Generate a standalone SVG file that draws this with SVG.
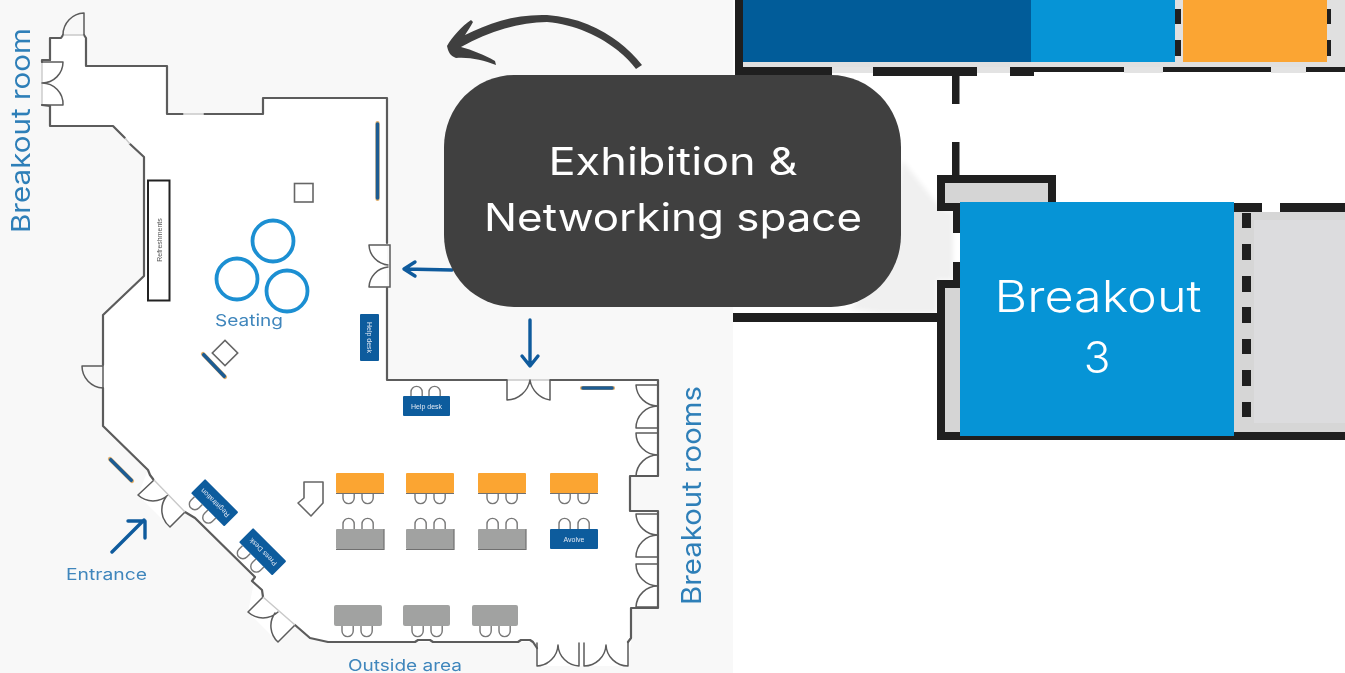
<svg xmlns="http://www.w3.org/2000/svg" width="1345" height="673" viewBox="0 0 1345 673">
<style>
.wall{fill:none;stroke:#5b5b5b;stroke-width:2.2;stroke-linejoin:round;stroke-linecap:round}
.door{fill:none;stroke:#5b5b5b;stroke-width:1.5;stroke-linecap:round}
.opening{fill:none;stroke:#c9c9c9;stroke-width:1.4}
.chair{fill:#fff;stroke:#777;stroke-width:1.4}
.orange{fill:#fba533}
.grey{fill:#a1a2a1}
.blue{fill:#0f5b9d}
.edge{fill:none;stroke:#6f6f6f;stroke-width:1.2}
.tiny{font-family:"Liberation Sans",sans-serif;font-size:7px;fill:#dfe9f3;text-anchor:middle}
.plan{font-family:"Inter","Liberation Sans",sans-serif;fill:#3f86bc}
.flow{fill:none;stroke:#0f5b9d;stroke-width:3.400;stroke-linecap:round;stroke-linejoin:round}
.bar{stroke:#e0ae6a;stroke-width:4.200;stroke-linecap:round}
.barin{stroke:#1f5c93;stroke-width:3.600;stroke-linecap:round}
.dk{fill:#1f1f1f}
.big{font-family:"Inter","Liberation Sans",sans-serif;fill:#fff;text-anchor:middle}
</style>
<defs>
<filter id="soft" x="-2%" y="-2%" width="104%" height="104%"><feGaussianBlur stdDeviation="0.55"/></filter>
<filter id="haze" x="-20%" y="-20%" width="140%" height="140%"><feGaussianBlur stdDeviation="2.500"/></filter>
<g id="chairUp"><path class="chair" d="M0 11V6a5.6 5.6 0 0 1 11.200 0V11"/></g>
<g id="chairDown"><path class="chair" d="M0 0V5a5.600 5.600 0 0 0 11.200 0V0"/></g>
</defs>

<rect x="0" y="0" width="733" height="673" fill="#f8f8f8"/>
<rect x="733" y="0" width="612" height="673" fill="#fff"/>

<g id="floorplan-left" filter="url(#soft)">
<path id="floor" fill="#fff" d="M63 35H84L86 38V66H167V114H263V98H387V380H658V476H630V511H658V608H631V640L628 666H537V642H328L310 638L295 625L278 642L248 612L255 577L195 518L185 512L170 527L138 495L148 470L103 426V315L144 276V157L113 126H50V106H42V60H50V38H61Z"/>
<path class="wall" d="M84 35L86 38V66H167V114H183M204 114H263V98H387V243M387 288V380H507M550 380H658V476H630V511H658V608H631V638L628 642M537 648L533 642L530 640H521L518 642H433L430 640H418L415 642H328L310 638L295 625M263 597L262 590L252 581L255 577L195 518L185 512M153 479L150 475L148 470L103 426V388M103 365V315L144 276V157L130 144M125 138L113 126H50V106M50 60V38H61L63 35"/>
<path class="opening" d="M183 114H204M130 144L125 138M63 35H84M42 60V106M507 380H550"/>
<path class="wall" d="M42 62V60L50 60M42 105L50 106"/>
<path class="door" d="M84 13V35M84 13A22 22 0 0 0 63 35"/>
<path class="door" d="M42 62H63M63 62A21 21 0 0 1 42 83M42 105H63M63 105A21 21 0 0 0 42 83"/>
<path class="door" d="M369 245H390V287H369M369 245A21 21 0 0 0 388 265M369 287A21 21 0 0 1 388 267"/>
<path class="door" d="M507 380V400M507 400A24 24 0 0 0 530 380M550 380V400M550 400A24 24 0 0 1 530 380"/>
<path class="door" d="M636 385H658M636 385A22 22 0 0 0 658 406M636 428H658M636 428A22 22 0 0 1 658 406M636 433H658M636 433A22 22 0 0 0 658 455M636 476H658M636 476A22 22 0 0 1 658 455"/>
<path class="door" d="M636 514H658M636 514A22 22 0 0 0 658 535M636 557H658M636 557A22 22 0 0 1 658 535M636 564H658M636 564A22 22 0 0 0 658 586M636 607H658M636 607A22 22 0 0 1 658 586"/>
<path class="door" d="M537 643V666M537 666A22 22 0 0 0 558 645M579 643V666M579 666A22 22 0 0 1 558 645M584 643V666M584 666A22 22 0 0 0 606 645M628 642V666M628 666A22 22 0 0 1 606 645"/>
<path class="door" d="M154 480L138 495M138 495A22 22 0 0 0 168 495M185 512L170 527M170 527A22 22 0 0 1 166 497"/>
<path class="door" d="M263 597L248 612M248 612A22 22 0 0 0 278 612M295 625L278 642M278 642A22 22 0 0 1 275 613"/>
<path class="opening" d="M154 480L185 512M263 597L295 625"/>
<path d="M82 366H103V388M82 366A22 22 0 0 0 103 388" class="door"/>

<g id="refreshments"><rect x="148" y="180.500" width="21.500" height="120" fill="#fff" stroke="#222" stroke-width="2"/><text class="tiny" transform="translate(161.500 240) rotate(-90)" style="fill:#555">Refreshments</text></g>
<rect id="pillar-top" x="294.500" y="183.500" width="18.500" height="18.500" fill="#fff" stroke="#666" stroke-width="1.600"/>
<g id="seating"><circle cx="273" cy="241" r="20.500" fill="#fff" stroke="#1a8fd2" stroke-width="3.800"/><circle cx="237" cy="279" r="20.500" fill="#fff" stroke="#1a8fd2" stroke-width="3.800"/><circle cx="287" cy="291" r="20.500" fill="#fff" stroke="#1a8fd2" stroke-width="3.800"/><text class="plan" x="249" y="326" font-size="16.500" text-anchor="middle" textLength="68" lengthAdjust="spacingAndGlyphs">Seating</text></g>
<rect id="pillar-diag" x="-9" y="-9" width="18" height="18" transform="translate(225 353) rotate(45)" fill="#fff" stroke="#666" stroke-width="1.600"/>

<line class="bar" x1="377.500" y1="123" x2="377.500" y2="199"/><line class="barin" x1="377.500" y1="124" x2="377.500" y2="198"/>
<line class="bar" x1="203" y1="354" x2="225" y2="377"/><line class="barin" x1="203.700" y1="354.700" x2="224.300" y2="376.300"/>
<line class="bar" x1="110" y1="459" x2="132" y2="481"/><line class="barin" x1="110.700" y1="459.700" x2="131.300" y2="480.300"/>
<line class="bar" x1="582" y1="388" x2="613" y2="388"/><line class="barin" x1="583" y1="388" x2="612" y2="388"/>

<g id="helpdesk-vertical"><rect x="360" y="314" width="19" height="47" rx="1" class="blue"/><text class="tiny" transform="translate(367 337.500) rotate(90)">Help desk</text></g>
<g id="helpdesk-horizontal"><use href="#chairUp" x="411" y="386"/><use href="#chairUp" x="429" y="386"/><rect x="403" y="396" width="47" height="20" rx="1" class="blue"/><text class="tiny" x="426.500" y="409">Help desk</text></g>

<g id="registration"><g transform="translate(215 503) rotate(45)"><use href="#chairDown" x="-19" y="10"/><use href="#chairDown" x="0" y="10"/><rect x="-24" y="-10" width="47" height="20" rx="1" class="blue"/><text class="tiny" transform="rotate(180)" y="2.500">Registration</text></g></g>
<g id="press-desk"><g transform="translate(263 552) rotate(45)"><use href="#chairDown" x="-19" y="10"/><use href="#chairDown" x="0" y="10"/><rect x="-24" y="-10" width="47" height="20" rx="1" class="blue"/><text class="tiny" transform="rotate(180)" y="2.500">Press Desk</text></g></g>

<path id="lectern" d="M304 482H323V503L311 516L298 503L304 498Z" fill="#fff" stroke="#666" stroke-width="1.600" stroke-linejoin="round"/>

<g id="tables-orange">
<use href="#chairDown" x="343" y="493"/><use href="#chairDown" x="362" y="493"/><rect x="336" y="473" width="48" height="20" rx="1" class="orange"/>
<use href="#chairDown" x="415" y="493"/><use href="#chairDown" x="434" y="493"/><rect x="406" y="473" width="48" height="20" rx="1" class="orange"/>
<use href="#chairDown" x="487" y="493"/><use href="#chairDown" x="506" y="493"/><rect x="478" y="473" width="48" height="20" rx="1" class="orange"/>
<use href="#chairDown" x="559" y="493"/><use href="#chairDown" x="578" y="493"/><rect x="550" y="473" width="48" height="20" rx="1" class="orange"/>
<path class="edge" d="M336 493.500H384M406 493.500H454M478 493.500H526M550 493.500H598"/>
</g>
<g id="tables-grey">
<use href="#chairUp" x="343" y="518"/><use href="#chairUp" x="362" y="518"/><rect x="336" y="529" width="48" height="20" rx="1" class="grey"/>
<use href="#chairUp" x="415" y="518"/><use href="#chairUp" x="434" y="518"/><rect x="406" y="529" width="48" height="20" rx="1" class="grey"/>
<use href="#chairUp" x="487" y="518"/><use href="#chairUp" x="506" y="518"/><rect x="478" y="529" width="48" height="20" rx="1" class="grey"/>
<path class="edge" d="M336 549.500H384V529M406 549.500H454V529M478 549.500H526V529"/>
</g>
<g id="table-avolve"><use href="#chairUp" x="559" y="518"/><use href="#chairUp" x="578" y="518"/><rect x="550" y="529" width="48" height="20" rx="1" class="blue"/><text class="tiny" x="574" y="542">Avolve</text></g>
<g id="tables-bottom">
<use href="#chairDown" x="342" y="626"/><use href="#chairDown" x="361" y="626"/><rect x="334" y="605" width="48" height="21" rx="2" class="grey"/>
<use href="#chairDown" x="412" y="626"/><use href="#chairDown" x="431" y="626"/><rect x="403" y="605" width="47" height="21" rx="2" class="grey"/>
<use href="#chairDown" x="480" y="626"/><use href="#chairDown" x="499" y="626"/><rect x="472" y="605" width="46" height="21" rx="2" class="grey"/>
</g>

<text class="plan" transform="translate(30 233) rotate(-90)" font-size="26" textLength="205" lengthAdjust="spacingAndGlyphs" style="fill:#2f7fb8">Breakout room</text>
<text class="plan" transform="translate(701 605) rotate(-90)" font-size="27" textLength="219" lengthAdjust="spacingAndGlyphs" style="fill:#2f7fb8">Breakout rooms</text>
<text class="plan" x="66" y="580" font-size="16" textLength="81" lengthAdjust="spacingAndGlyphs">Entrance</text>
<text class="plan" x="348" y="671" font-size="16" textLength="114" lengthAdjust="spacingAndGlyphs">Outside area</text>
</g>

<g id="connectors">
<path class="flow" d="M112 552L144 520M128 521H145V538"/>
<path class="flow" d="M452 270L405 269M415 262L404 269L415 276"/>
<path class="flow" d="M530 320V365M522 356L530 366L538 356"/>
<path fill="#3f3f3f" d="M642 65C622 40 590 18 547 15C515 14 489 23 465 35C468 30 471 26 473 22L471 20C462 26 452 37 447 46C448 51 450 56 456 58C470 57 483 60 496 65L495 61C485 55 472 50 461 47C490 31 520 22 547 22C583 25 618 45 636 69Z"/>
</g>

<g id="floorplan-right">
<rect x="743" y="0" width="602" height="67" fill="#e0e0e0"/>
<path d="M832 67H873V73H832ZM977 67H1010V73H977ZM1124 67H1163V73H1124ZM1271 67H1306V73H1271Z" fill="#e3e3e3"/>
<path d="M902 160L938 205L945 211H953V280H937V313H880L850 309L890 260Z" fill="#f0f0f0" filter="url(#haze)"/>
<path class="dk" d="M735 0H743V67H832V76H735Z"/>
<path class="dk" d="M873 67H977V76H873ZM1010 67H1124V72H1010ZM1163 67H1271V72H1163ZM1306 67H1345V72H1306Z"/>
<rect x="1010" y="72" width="24" height="4" class="dk"/>
<rect class="dk" x="952" y="76" width="7.500" height="28"/>
<rect class="dk" x="952" y="142" width="7.500" height="34"/>
<rect x="945" y="183" width="103" height="22" fill="#d5d5d5"/>
<path class="dk" d="M937 175H1056V204H1048V183H945V203H960V211H937Z"/>
<rect class="dk" x="953" y="211" width="8" height="22"/>
<rect class="dk" x="953" y="262" width="8" height="20"/>
<rect x="945" y="288" width="20" height="145" fill="#d5d5d5"/>
<path class="dk" d="M937 280H962V288H945V432H1345V440H937V322H733V313H937Z"/>
<rect x="1234" y="212" width="111" height="220" fill="#d6d6d6"/>
<rect x="1254" y="220" width="91" height="203" fill="#dcdcde"/>
<path class="dk" d="M1234 203H1262V212H1234ZM1280 203H1345V212H1280Z"/>
<path class="dk" d="M1242 213H1251V228H1242ZM1242 244H1251V260H1242ZM1242 276H1251V292H1242ZM1242 307H1251V323H1242ZM1242 339H1251V354H1242ZM1242 370H1251V386H1242ZM1242 402H1251V417H1242Z"/>
<path class="dk" d="M1175 9H1181V24H1175ZM1175 40H1181V56H1175ZM1327 9H1331V24H1327ZM1327 40H1331V56H1327Z"/>
</g>

<g id="node-room-blue"><rect x="743" y="0" width="288" height="62" fill="#015c99"/></g>
<g id="node-room-lightblue"><rect x="1031" y="0" width="144" height="62" fill="#0694d6"/></g>
<g id="node-room-orange"><rect x="1183" y="0" width="144" height="62" fill="#fba533"/></g>

<g id="node-exhibition">
<rect x="444" y="75" width="457" height="232" rx="70" ry="72" fill="#404040"/>
<text class="big" x="673" y="174.500" font-size="38.500" textLength="249" lengthAdjust="spacingAndGlyphs">Exhibition &amp;</text>
<text class="big" x="673" y="230.500" font-size="38.500" textLength="378" lengthAdjust="spacingAndGlyphs">Networking space</text>
</g>
<g id="node-breakout-3">
<rect x="960" y="202" width="274" height="234" fill="#0694d6"/>
<text class="big" x="1098" y="312" font-size="44" font-weight="300" textLength="207" lengthAdjust="spacingAndGlyphs">Breakout</text>
<text class="big" x="1097" y="373" font-size="44" font-weight="300">3</text>
</g>
</svg>
